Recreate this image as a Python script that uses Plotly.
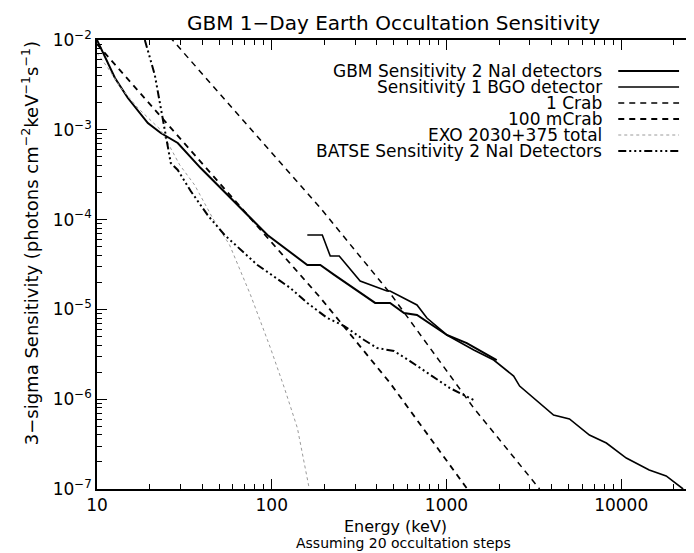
import plotly.graph_objects as go

# ---------------- data ----------------
energy_nai = [10, 12.67, 15.02, 19.54, 23.18, 28.98, 39.2, 66.3, 94.5, 159.8, 189.6,
              227.9, 308, 390.5, 475.5, 571.5, 678, 1005, 1307, 1939]
flux_nai = [1.0e-2, 3.77e-3, 2.26e-3, 1.19e-3, 9.21e-4, 7.13e-4, 3.75e-4, 1.35e-4,
            6.74e-5, 3.12e-5, 3.12e-5, 2.42e-5, 1.64e-5, 1.18e-5, 1.18e-5, 9.12e-6,
            8.66e-6, 5.19e-6, 4.22e-6, 2.73e-6]

energy_bgo = [159.8, 194.7, 216.2, 243.3, 320.6, 457, 475.5, 678, 773, 1005, 1433,
              1864, 2424, 2622, 4101, 5056, 6577, 8222, 10693, 14464, 18083, 22615]
flux_bgo = [6.74e-5, 6.74e-5, 3.93e-5, 3.93e-5, 2.07e-5, 1.60e-5, 1.60e-5, 1.12e-5,
            8.02e-6, 5.19e-6, 3.53e-6, 2.73e-6, 1.81e-6, 1.40e-6, 6.67e-7, 6.02e-7,
            3.99e-7, 3.25e-7, 2.21e-7, 1.63e-7, 1.40e-7, 1.0e-7]

energy_crab = [10, 27.1, 45.9, 100, 189.7, 475, 1432, 3412]
flux_crab = [9.0e-2, 1.0e-2, 3.08e-3, 5.52e-4, 1.35e-4, 1.52e-5, 7.98e-7, 1.0e-7]

energy_mcrab = [10, 27.1, 45.9, 100, 189.7, 475, 1432, 3412]
flux_mcrab = [9.0e-3, 1.0e-3, 3.08e-4, 5.52e-5, 1.35e-5, 1.52e-6, 7.98e-8, 1.0e-8]

energy_exo = [10, 11.55, 13.71, 17.13, 23.18, 29.75, 36.2, 45.9, 57.4, 75.6, 98.3,
              118.2, 140.2, 164.1]
flux_exo = [7.16e-3, 4.88e-3, 2.92e-3, 1.75e-3, 9.95e-4, 4.06e-4, 2.43e-4, 1.04e-4,
            5.21e-5, 1.45e-5, 3.72e-6, 1.33e-6, 4.78e-7, 1.0e-7]

energy_batse = [18.78, 21.42, 23.18, 24.75, 26.43, 28.98, 34.38, 42.98, 53.72, 82.86,
                127.8, 159.8, 207.9, 259.8, 337.9, 400.9, 501, 618.3, 804, 1045.7, 1433]
flux_batse = [1.0e-2, 4.08e-3, 1.75e-3, 8.75e-4, 4.27e-4, 3.57e-4, 2.08e-4, 1.12e-4,
              6.74e-5, 3.12e-5, 1.73e-5, 1.18e-5, 8.02e-6, 6.53e-6, 4.56e-6, 3.72e-6,
              3.44e-6, 2.66e-6, 1.86e-6, 1.33e-6, 9.8e-7]

x_tick_vals = [10, 100, 1000, 10000]
x_tick_text = ["10", "100", "1000", "10000"]
y_tick_vals = [1e-7, 1e-6, 1e-5, 1e-4, 1e-3, 1e-2]
y_tick_text = ["10<sup>−7</sup>", "10<sup>−6</sup>", "10<sup>−5</sup>",
               "10<sup>−4</sup>", "10<sup>−3</sup>", "10<sup>−2</sup>"]

legend_labels = ["GBM Sensitivity 2 NaI detectors", "Sensitivity 1 BGO detector",
                 "1 Crab", "100 mCrab", "EXO 2030+375 total",
                 "BATSE Sensitivity 2 NaI Detectors"]

# ---------------- styles ----------------
FONT = "DejaVu Sans"
styles = [
    dict(color="black", width=2.0, dash="solid"),
    dict(color="black", width=1.6, dash="solid"),
    dict(color="black", width=1.5, dash="6px,5px"),
    dict(color="black", width=1.8, dash="6px,5px"),
    dict(color="#9a9a9a", width=1.0, dash="3px,3px"),
    dict(color="black", width=2.0, dash="8px,3px,2px,3px,2px,3px,2px,3px"),
]
series = [(energy_nai, flux_nai), (energy_bgo, flux_bgo), (energy_crab, flux_crab),
          (energy_mcrab, flux_mcrab), (energy_exo, flux_exo), (energy_batse, flux_batse)]

fig = go.Figure()
for (ex, fy), st, name in zip(series, styles, legend_labels):
    fig.add_trace(go.Scatter(x=ex, y=fy, mode="lines", name=name, showlegend=False,
                             line=st))

# minor ticks
x_minor = [m * d for d in [10, 100, 1000, 10000] for m in range(2, 10)]
y_minor = [m * d for d in [1e-7, 1e-6, 1e-5, 1e-4, 1e-3] for m in range(2, 10)]

L, R, T, B = 89, 4, 32, 72
W, H = 694, 553
PW, PH = W - L - R, H - T - B

fig.update_layout(
    width=W, height=H,
    margin=dict(l=L, r=R, t=T, b=B),
    paper_bgcolor="white", plot_bgcolor="white",
    font=dict(family=FONT, color="black", size=17),
    title=dict(text="GBM 1−Day Earth Occultation Sensitivity",
               x=(L + PW / 2 - 4) / W, xanchor="center",
               y=1 - 15 / H, yanchor="middle",
               font=dict(size=20, family=FONT, color="black")),
)
fig.update_xaxes(type="log", range=[1, 4.428], showgrid=False, zeroline=False,
                 showline=True, linecolor="black", linewidth=1.5, mirror="allticks",
                 ticks="inside", ticklen=10, tickwidth=1.2, tickcolor="black",
                 tickvals=x_tick_vals, ticktext=x_tick_text,
                 tickfont=dict(size=17),
                 minor=dict(tickvals=x_minor, ticks="inside", ticklen=5,
                            tickwidth=1, tickcolor="black", showgrid=False))
fig.update_yaxes(type="log", range=[-7, -2], showgrid=False, zeroline=False,
                 showline=True, linecolor="black", linewidth=1.5, mirror="allticks",
                 ticks="inside", ticklen=10, tickwidth=1.2, tickcolor="black",
                 tickvals=y_tick_vals, ticktext=y_tick_text,
                 tickfont=dict(size=17),
                 minor=dict(tickvals=y_minor, ticks="inside", ticklen=5,
                            tickwidth=1, tickcolor="black", showgrid=False))

def px_x(px):
    return (px - L) / PW

def px_y(py):
    return (H - B - py) / PH

annotations = [
    dict(text="Energy (keV)", x=px_x(388), y=px_y(518), xref="paper", yref="paper",
         xanchor="center", yanchor="middle", showarrow=False, font=dict(size=16)),
    dict(text="Assuming 20 occultation steps", x=px_x(397), y=px_y(535),
         xref="paper", yref="paper", xanchor="center", yanchor="middle",
         showarrow=False, font=dict(size=14)),
    dict(text="3−sigma Sensitivity (photons cm<sup>−2</sup>keV<sup>−1</sup>s<sup>−1</sup>)",
         x=px_x(22), y=px_y(235), xref="paper", yref="paper", textangle=-90,
         xanchor="center", yanchor="middle", showarrow=False, font=dict(size=18)),
]
shapes = []
legend_rows = [63, 79, 95, 111, 127, 143]
for lab, st, ry in zip(legend_labels, styles, legend_rows):
    annotations.append(dict(text=lab, x=px_x(598), y=px_y(ry), xref="paper",
                            yref="paper", xanchor="right", yanchor="middle",
                            showarrow=False, font=dict(size=17)))
    shapes.append(dict(type="line", xref="paper", yref="paper",
                       x0=px_x(612), x1=px_x(673), y0=px_y(ry), y1=px_y(ry),
                       line=dict(color=st["color"], width=st["width"], dash=st["dash"])))
fig.update_layout(annotations=annotations, shapes=shapes)

fig.write_html("out.html")
